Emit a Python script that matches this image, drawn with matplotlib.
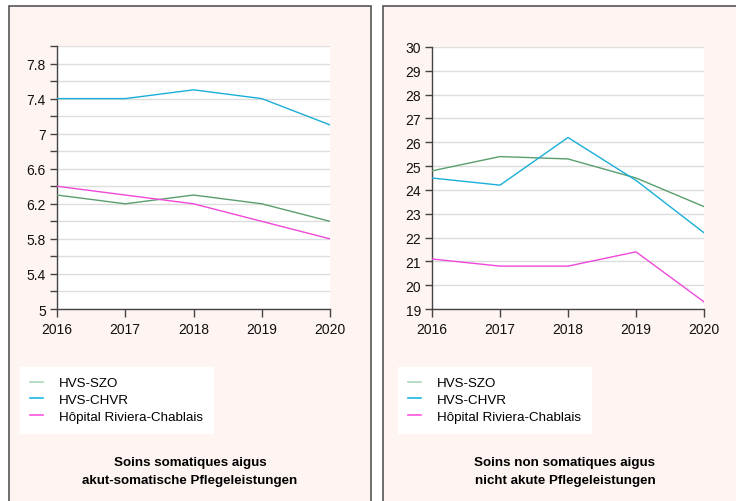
import matplotlib.pyplot as plt
import matplotlib.patches as mpatches
import numpy as np

plt.rcParams['font.family'] = ['Liberation Sans', 'DejaVu Sans']

years = [2016, 2017, 2018, 2019, 2020]
labels = ['HVS-SZO', 'HVS-CHVR', 'Hôpital Riviera-Chablais']
colors = ['#5a9e6f', '#1aaed6', '#f048d8']
legend_colors = ['#a8d8b8', '#1ab8e0', '#ff55e0']

# soins somatiques aigus
soma_szo = [6.3, 6.2, 6.3, 6.2, 6.0]
soma_chvr = [7.4, 7.4, 7.5, 7.4, 7.1]
soma_hrc = [6.4, 6.3, 6.2, 6.0, 5.8]

# soins non somatiques aigus
nonsoma_szo = [24.8, 25.4, 25.3, 24.5, 23.3]
nonsoma_chvr = [24.5, 24.2, 26.2, 24.4, 22.2]
nonsoma_hrc = [21.1, 20.8, 20.8, 21.4, 19.3]

titles = ['Soins somatiques aigus\nakut-somatische Pflegeleistungen',
          'Soins non somatiques aigus\nnicht akute Pflegeleistungen']

W, H = 736, 502
fig = plt.figure(figsize=(W / 100, H / 100), dpi=100)
fig.patch.set_facecolor('white')

bg = '#fef4f2'
edge = '#555555'
# panel frames (open at bottom)
for x0, x1 in [(9, 371), (383, 740)]:
    fig.patches.append(mpatches.Rectangle((x0 / W, -0.02), (x1 - x0) / W, 1 - 7 / H + 0.02,
                                          transform=fig.transFigure, facecolor=bg,
                                          edgecolor=edge, linewidth=1.2, zorder=-5))


def make_axes(rect, series, ylim, major, minor):
    ax = fig.add_axes(rect)
    ax.set_zorder(2)
    ax.set_facecolor('white')
    for vals, c in zip(series, colors):
        ax.plot(years, vals, color=c, linewidth=1.0, zorder=3)
    ax.set_xlim(years[0], years[-1])
    ax.set_ylim(*ylim)
    ax.set_xticks(years)
    ax.set_yticks(major)
    ax.set_yticks(minor, minor=True)
    ax.yaxis.set_major_formatter(plt.FuncFormatter(lambda v, p: f'{v:g}'))
    ax.grid(True, which='both', axis='y', color='#dddddd', linewidth=1.0, zorder=1)
    for s in ['top', 'right']:
        ax.spines[s].set_visible(False)
    for s in ['left', 'bottom']:
        ax.spines[s].set_color('#444444')
        ax.spines[s].set_linewidth(1.0)
    ax.tick_params(axis='both', which='both', colors='#444444', labelcolor='#111111',
                   labelsize=10, width=1.0)
    ax.tick_params(axis='y', which='major', length=5, pad=3)
    ax.tick_params(axis='y', which='minor', length=5)
    ax.tick_params(axis='x', length=6, pad=3)
    return ax


ax1 = make_axes([57 / W, 1 - 310 / H, 273 / W, 263 / H],
                [soma_szo, soma_chvr, soma_hrc], (5, 8),
                np.arange(5, 7.81, 0.4), np.arange(5, 8.01, 0.2))
ax2 = make_axes([432 / W, 1 - 310 / H, 272 / W, 262 / H],
                [nonsoma_szo, nonsoma_chvr, nonsoma_hrc], (19, 30),
                np.arange(19, 31, 1), [])

for lx, tx, title in [(20, 190, titles[0]), (398, 565, titles[1])]:
    handles = [plt.Line2D([], [], color=c, linewidth=1.2) for c in legend_colors]
    leg = fig.legend(handles, labels, loc='upper left',
                     bbox_to_anchor=(lx / W, 1 - 368 / H), frameon=True,
                     fontsize=9.6, handlelength=1.0, handletextpad=1.2,
                     labelspacing=0.32, borderpad=0.75, borderaxespad=0,
                     fancybox=False)
    leg.get_frame().set_facecolor('white')
    leg.get_frame().set_edgecolor('white')
    leg.get_frame().set_alpha(1)
    fig.text(tx / W, 1 - 472 / H, title, ha='center', va='center',
             fontsize=9.6, fontweight='bold', linespacing=1.75)

fig.savefig('out.png', dpi=100)
